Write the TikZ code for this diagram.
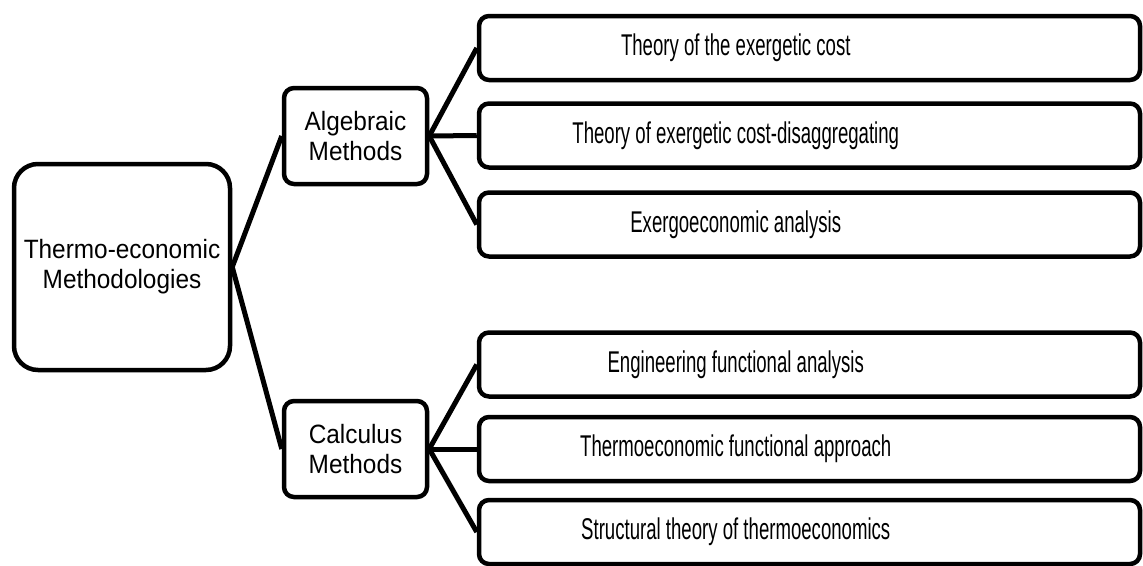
\documentclass[tikz,border=0pt]{standalone}
\usepackage{fontspec}
\setmainfont{Liberation Sans}
\newfontfamily\leaffont[FakeStretch=0.62]{Liberation Sans}
\newfontfamily\rootfont[FakeStretch=0.92]{Liberation Sans}
\usetikzlibrary{positioning}

\begin{document}
\begin{tikzpicture}[x=1pt,y=-1pt,
  box/.style={draw,line width=4.5pt,rounded corners=10pt,inner sep=0pt},
  rootbox/.style={box,rounded corners=24pt,minimum width=216pt,minimum height=206pt,align=center,font=\rootfont\fontsize{26.5}{30}\selectfont},
  midbox/.style={box,minimum width=143pt,minimum height=96pt,align=center,font=\rootfont\fontsize{26.5}{30}\selectfont},
  leafbox/.style={box,minimum width=661pt,minimum height=64pt},
  leaftext/.style={font=\leaffont\fontsize{30}{34}\selectfont},
  link/.style={line width=5pt}]
\useasboundingbox (0,0) rectangle (1143,565);
% root and the two method groups
\node[rootbox] (root) at (122,267) {Thermo-economic\\Methodologies};
\node[midbox] (alg) at (355.5,136) {Algebraic\\Methods};
\node[midbox] (calc) at (355.5,449) {Calculus\\Methods};
% leaves (text sits left of the box centre)
\foreach \n/\y/\t in {1/48/{Theory of the exergetic cost},
                      2/135.5/{Theory of exergetic cost-disaggregating},
                      3/224.5/{Exergoeconomic analysis},
                      4/364.5/{Engineering functional analysis},
                      5/449/{Thermoeconomic functional approach},
                      6/532/{Structural theory of thermoeconomics}}{
  \node[leafbox] (leaf\n) at (809.5,\y) {};
  \node[leaftext] (txt\n) at ([xshift=259pt]leaf\n.west) {\t};
}
% connectors
\draw[link] (root.east) -- (alg.west);
\draw[link] (root.east) -- (calc.west);
\foreach \n in {1,2,3} \draw[link] (alg.east) -- (leaf\n.west);
\foreach \n in {4,5,6} \draw[link] (calc.east) -- (leaf\n.west);
\end{tikzpicture}
\end{document}
